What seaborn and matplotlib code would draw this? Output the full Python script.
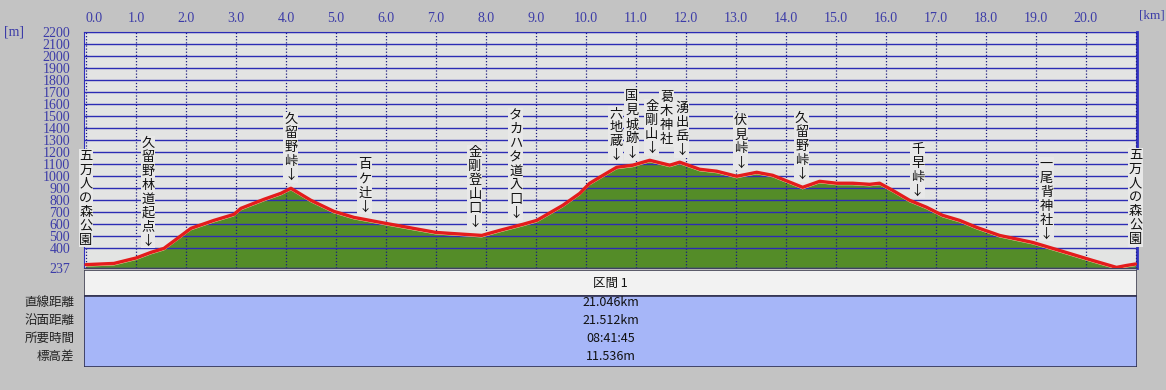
import matplotlib.pyplot as plt
import matplotlib.transforms as mtransforms
from matplotlib.patches import Rectangle
import numpy as np
import pandas as pd
import seaborn as sns

# elevation profile
km = [0, 0.56, 1.0, 1.3, 1.56, 2.1, 2.56, 2.96, 3.1, 3.56, 3.9, 4.1, 4.5, 4.96,
      5.36, 6.0, 7.0, 7.28, 7.92, 8.28, 8.74, 9.02, 9.54, 9.88, 10.08, 10.28,
      10.62, 10.94, 11.28, 11.68, 11.88, 12.28, 12.62, 13.02, 13.42, 13.74,
      14.34, 14.68, 15.02, 15.34, 15.68, 15.88, 16.14, 16.48, 16.82, 17.14,
      17.48, 17.82, 18.28, 18.94, 19.48, 20.14, 20.62, 20.82, 21.0]
elev = [265, 275, 320, 367, 400, 567, 633, 683, 733, 808, 858, 900, 800, 708,
        658, 608, 533, 525, 508, 550, 600, 633, 758, 858, 942, 992,
        1075, 1092, 1133, 1092, 1117, 1058, 1042, 1000, 1033, 1008,
        908, 958, 942, 942, 933, 942, 883, 800, 742, 675,
        633, 575, 508, 450, 383, 300, 242, 258, 270]

label_text = ["五万人の森公園", "久留野林道起点", "久留野峠", "百ケ辻", "金剛登山口",
              "タカハタ道入口", "六地蔵", "国見城跡", "金剛山", "葛木神社", "湧出岳",
              "伏見峠", "久留野峠", "千早峠", "一尾背神社", "五万人の森公園"]
label_km = [0.0, 1.24, 4.1, 5.58, 7.78, 8.6, 10.6, 10.92, 11.32, 11.62, 11.92,
            13.1, 14.32, 16.64, 19.22, 21.0]
label_arrow = [False, True, True, True, True, True, True, True, True, False, True,
               True, True, True, True, False]

x_ticks = list(range(0, 22))
x_labels = [f"{v:.1f}" for v in range(0, 21)] + [""]
y_ticks = [237] + list(range(400, 2300, 100))

row_names = ["直線距離", "沿面距離", "所要時間", "標高差"]
row_values = ["21.046km", "21.512km", "08:41:45", "11.536m"]
section_title = "区間 1"

sns.set_style("white")
plt.rcParams['font.family'] = ['Noto Sans CJK JP', 'DejaVu Sans']

W, H = 1166, 390
fig = plt.figure(figsize=(W / 100, H / 100), dpi=100, facecolor='#c3c3c3')
ax = fig.add_axes([84 / W, 1 - 268 / H, (1137 - 84) / W, (268 - 32) / H])
ax.set_facecolor('#e3e4e3')

df = pd.DataFrame({'km': km, 'elev': elev})
ax.fill_between(df['km'], df['elev'], 237, color='#548c28', lw=0, zorder=2)
# pale rim just under the red profile line
rim = mtransforms.offset_copy(ax.transData, fig=fig, x=0, y=-1.5, units='dots')
ax.plot(df['km'], df['elev'], color='#f0eab0', lw=0.8, zorder=3.5, transform=rim)
sns.lineplot(data=df, x='km', y='elev', ax=ax, color='#e41c1c', lw=2.4, zorder=4)

ax.set_xlim(-0.04, 21.03)
ax.set_ylim(237, 2200)
ax.set_xticks(x_ticks, x_labels)
ax.set_yticks(y_ticks)
ax.xaxis.tick_top()
ax.set_xlabel("")
ax.set_ylabel("")
ax.set_axisbelow(False)
ax.xaxis.grid(True, ls=(0, (1, 1.5)), color='#1c1c80', lw=0.9)
ax.yaxis.grid(True, ls='-', color='#2c2cb4', lw=1.0)
ax.tick_params(length=0, labelcolor='#3c3ca8', labelsize=10)
ax.tick_params(axis='x', pad=5)
ax.tick_params(axis='y', pad=10)
for lbl in ax.get_xticklabels() + ax.get_yticklabels():
    lbl.set_fontfamily('Liberation Serif')
ax.get_xticklabels()[0].set_ha('left')
for side in ['left', 'top', 'right']:
    ax.spines[side].set_color('#3030c0')
ax.spines['right'].set_linewidth(2)
ax.spines['bottom'].set_color('#404060')

# point labels, vertical text with an arrow pointing to the profile
for t, k, arr in zip(label_text, label_km, label_arrow):
    y0 = np.interp(k, km, elev)
    s = "\n".join(t) + ("\n↓" if arr else "")
    off = mtransforms.offset_copy(ax.transData, fig=fig, x=0, y=6 if arr else 18, units='dots')
    ax.text(k, y0, s, transform=off, ha='center', va='bottom', fontsize=9.5,
            linespacing=1.1, color='#111111', zorder=6, clip_on=False,
            bbox=dict(fc='#e8e8e8', ec='none', pad=0.6))

fig.text(4 / W, 1 - 32 / H, "[m]", va='center', color='#3c3ca8', fontsize=10,
         family='Liberation Serif')
fig.text(1139 / W, 1 - 16 / H, "[km]", va='center', color='#3c3ca8', fontsize=9.5,
         family='Liberation Serif')

# summary table
tax = fig.add_axes([84 / W, 1 - 367 / H, (1137 - 84) / W, 97 / H])
tax.set_xlim(0, 1)
tax.set_ylim(0, 1)
tax.axis('off')
tax.add_patch(Rectangle((0, 0.732), 1, 0.268, fc='#f2f2f2', ec='#404050', lw=1.2))
tax.add_patch(Rectangle((0, 0), 1, 0.732, fc='#a6b6f8', ec='#303050', lw=1.2))
tax.text(0.5, 0.866, section_title, ha='center', va='center', fontsize=9, color='#111111')
for y, name, val in zip(np.linspace(0.67, 0.113, len(row_names)), row_names, row_values):
    tax.text(0.5, y, val, ha='center', va='center', fontsize=9, color='#111111')
    tax.text(-0.009, y, name, ha='right', va='center', fontsize=9, color='#222222',
             clip_on=False)

fig.savefig("out.png", dpi=100, facecolor=fig.get_facecolor())
